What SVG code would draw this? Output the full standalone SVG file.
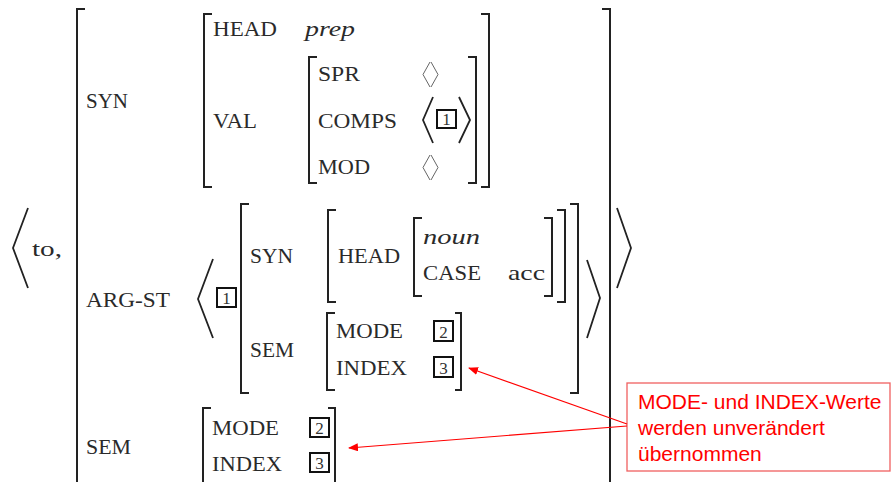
<svg xmlns="http://www.w3.org/2000/svg" width="891" height="482" viewBox="0 0 891 482">
<defs>
<style>
.t{font-family:"Liberation Serif","Times New Roman",serif;font-size:21px;fill:#2a2a2a}
.i{font-style:italic}
.br{fill:none;stroke:#222;stroke-width:2}
.ang{fill:none;stroke:#222;stroke-width:1.8}
.sm{fill:none;stroke:#666;stroke-width:1}
.box{fill:#fff;stroke:#111;stroke-width:2}
.d{font-family:"Liberation Serif","Times New Roman",serif;font-size:17px;fill:#333;text-anchor:middle}
.note{fill:#fff;stroke:#f06060;stroke-width:1.3}
.nt{font-family:"Liberation Sans",Arial,sans-serif;font-size:21px;fill:#ff0000}
.arr{stroke:#ff0000;stroke-width:1.2;fill:none}
</style>
<marker id="ah" markerWidth="10" markerHeight="8" refX="9" refY="4" orient="auto" markerUnits="userSpaceOnUse">
<path d="M0,0 L10,4 L0,8 z" fill="#ff0000"/>
</marker>
</defs>
<rect width="891" height="482" fill="#fff"/>

<g id="outer">
<path class="br" d="M85,9 H77 V482"/>
<path class="br" d="M602,9 H610 V482"/>
<polyline class="ang" points="28,208 13,248 28,288"/>
<polyline class="ang" points="617,208 631,248 617,288"/>
<text class="t" x="32" y="256" textLength="30" lengthAdjust="spacingAndGlyphs">to,</text>
</g>

<g id="syn">
<text class="t" x="86" y="108" textLength="42" lengthAdjust="spacingAndGlyphs">SYN</text>
<path class="br" d="M212,14 H204 V187 H212"/>
<path class="br" d="M481,14 H489 V187 H481"/>
<text class="t" x="213" y="36" textLength="64" lengthAdjust="spacingAndGlyphs">HEAD</text>
<text class="t i" x="305" y="36" textLength="50" lengthAdjust="spacingAndGlyphs">prep</text>
<text class="t" x="213" y="128" textLength="44" lengthAdjust="spacingAndGlyphs">VAL</text>
</g>

<g id="val">
<path class="br" d="M317,57 H309 V183 H317"/>
<path class="br" d="M468,57 H476 V183 H468"/>
<text class="t" x="318" y="81" textLength="42" lengthAdjust="spacingAndGlyphs">SPR</text>
<polyline class="sm" points="430,62 423,74.5 430,87"/>
<polyline class="sm" points="431,62 438,74.5 431,87"/>
<text class="t" x="318" y="128" textLength="79" lengthAdjust="spacingAndGlyphs">COMPS</text>
<polyline class="ang" points="433,97 423,120 433,143"/>
<rect class="box" x="437" y="110" width="19" height="18"/>
<text class="d" x="446.5" y="125">1</text>
<polyline class="ang" points="459,97 470,120 459,143"/>
<text class="t" x="318" y="174" textLength="52" lengthAdjust="spacingAndGlyphs">MOD</text>
<polyline class="sm" points="430,155 423,167.5 430,180"/>
<polyline class="sm" points="431,155 438,167.5 431,180"/>
</g>

<g id="argst">
<text class="t" x="86" y="307" textLength="84" lengthAdjust="spacingAndGlyphs">ARG-ST</text>
<polyline class="ang" points="213,259 198,299 213,338"/>
<rect class="box" x="217" y="288" width="19" height="19"/>
<text class="d" x="226.5" y="303.5">1</text>
<path class="br" d="M249,204 H241 V393 H249"/>
<path class="br" d="M570,204 H578 V393 H570"/>
<polyline class="ang" points="587,260 600,298 587,338"/>
<text class="t" x="250" y="263" textLength="43" lengthAdjust="spacingAndGlyphs">SYN</text>
<text class="t" x="250" y="357" textLength="44" lengthAdjust="spacingAndGlyphs">SEM</text>
</g>

<g id="argsyn">
<path class="br" d="M336,210 H328 V302 H336"/>
<path class="br" d="M557,210 H565 V302 H557"/>
<text class="t" x="338" y="263" textLength="62" lengthAdjust="spacingAndGlyphs">HEAD</text>
<path class="br" d="M422,218 H414 V296 H422"/>
<path class="br" d="M544,218 H552 V296 H544"/>
<text class="t i" x="423" y="244" textLength="57" lengthAdjust="spacingAndGlyphs">noun</text>
<text class="t" x="423" y="280" textLength="58" lengthAdjust="spacingAndGlyphs">CASE</text>
<text class="t" x="508" y="280" textLength="37" lengthAdjust="spacingAndGlyphs">acc</text>
</g>

<g id="argsem">
<path class="br" d="M335,313 H327 V390 H335"/>
<path class="br" d="M455,313 H461 V390 H455"/>
<text class="t" x="336" y="338" textLength="67" lengthAdjust="spacingAndGlyphs">MODE</text>
<rect class="box" x="434" y="321" width="19" height="20"/>
<text class="d" x="443.5" y="337.5">2</text>
<text class="t" x="336" y="375" textLength="71" lengthAdjust="spacingAndGlyphs">INDEX</text>
<rect class="box" x="434" y="357" width="19" height="20"/>
<text class="d" x="443.5" y="373.5">3</text>
</g>

<g id="sem">
<text class="t" x="86" y="454" textLength="45" lengthAdjust="spacingAndGlyphs">SEM</text>
<path class="br" d="M211,408 H203 V482"/>
<path class="br" d="M328,408 H335 V482"/>
<text class="t" x="212" y="435" textLength="67" lengthAdjust="spacingAndGlyphs">MODE</text>
<rect class="box" x="310" y="418" width="19" height="19"/>
<text class="d" x="319.5" y="433.5">2</text>
<text class="t" x="212" y="471" textLength="70" lengthAdjust="spacingAndGlyphs">INDEX</text>
<rect class="box" x="310" y="453" width="19" height="19"/>
<text class="d" x="319.5" y="468.5">3</text>
</g>

<g id="note">
<rect class="note" x="627" y="383" width="263" height="88"/>
<text class="nt" x="638" y="409">MODE- und INDEX-Werte</text>
<text class="nt" x="638" y="435">werden unverändert</text>
<text class="nt" x="638" y="461">übernommen</text>
</g>

<g id="connectors">
<line class="arr" x1="627" y1="424" x2="469" y2="368" marker-end="url(#ah)"/>
<line class="arr" x1="627" y1="426" x2="349" y2="448" marker-end="url(#ah)"/>
</g>
</svg>
